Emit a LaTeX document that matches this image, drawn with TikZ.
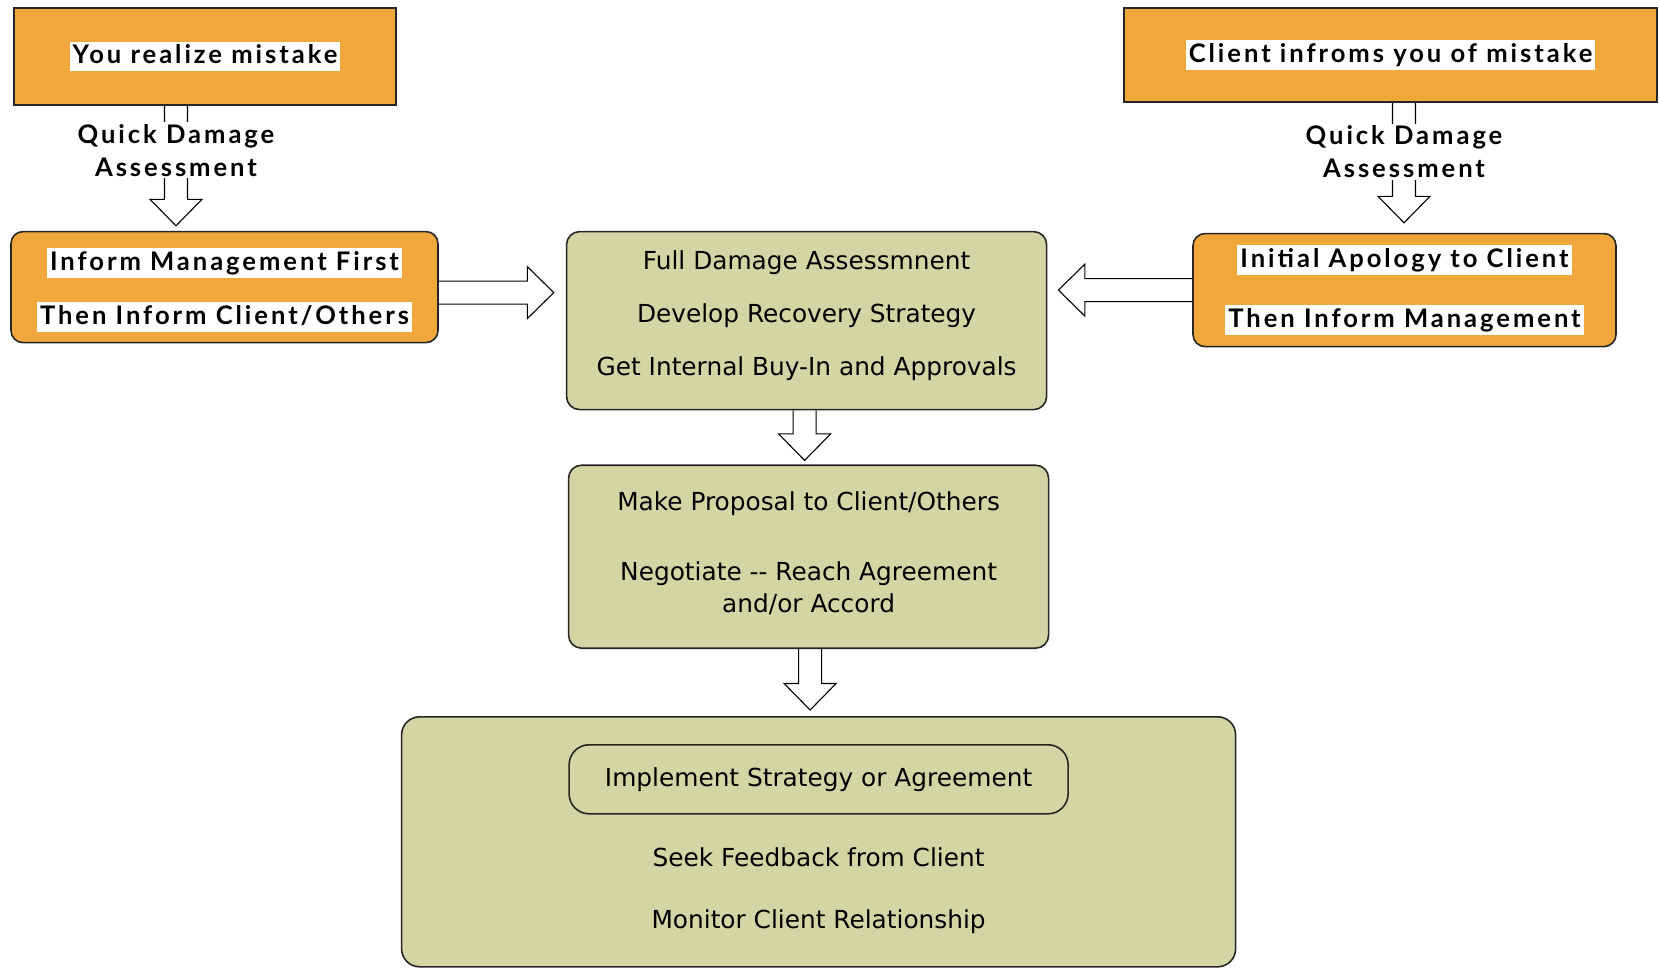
\documentclass[tikz,border=0pt]{standalone}
\usepackage{fontspec}
\setmainfont{Lato}
\newfontfamily\tagfont[LetterSpace=11.5]{Lato}
\newfontfamily\stepfont{DejaVu Sans}
\usepackage{tikz}
\usetikzlibrary{positioning,calc}
\definecolor{BoxOrange}{RGB}{240,168,60}
\definecolor{BoxOlive}{RGB}{211,214,164}
\newcommand{\whitetag}[1]{{\setlength{\fboxsep}{1.5pt}\colorbox{white}{\vphantom{Ag}#1}}}
% fat open arrow from #1 to #2
\newcommand{\hollowarrow}[2]{%
  \coordinate (hb) at ($(#2)!13.25pt!(#1)$);
  \draw[fatarrow] ($(#1)!5.75pt!90:(#2)$) -- ($(hb)!5.75pt!90:(#2)$) -- ($(hb)!13pt!90:(#2)$) -- (#2)
    -- ($(hb)!13pt!-90:(#2)$) -- ($(hb)!5.75pt!-90:(#2)$) -- ($(#1)!5.75pt!-90:(#2)$);}
\tikzset{
 topbox/.style={draw=black!85,fill=BoxOrange,line width=0.8pt,align=center,inner sep=0pt,
   font=\tagfont\bfseries\fontsize{12.8}{15}\selectfont},
 sidebox/.style={topbox,rounded corners=6pt},
 greenbox/.style={draw=black!85,fill=BoxOlive,line width=0.8pt,rounded corners=6.5pt,align=center,
   inner sep=0pt,font=\stepfont\fontsize{12.4}{16}\selectfont},
 innerbox/.style={greenbox,rounded corners=10pt},
 plain/.style={inner sep=0pt,font=\stepfont\fontsize{12.4}{16}\selectfont},
 qlabel/.style={fill=white,inner sep=1pt,align=center,font=\tagfont\bfseries\fontsize{12.8}{16.5}\selectfont},
 fatarrow/.style={draw=black,line width=0.55pt,line join=miter}
}
\begin{document}
\begin{tikzpicture}
\useasboundingbox (0,0) rectangle (829.5pt,-484.5pt);
% where it starts
\node[topbox,minimum width=191pt,minimum height=48.5pt] (mistake) at (102.5pt,-28.25pt) {\whitetag{You realize mistake}};
\node[topbox,minimum width=266.5pt,minimum height=47pt] (client) at (695.25pt,-27.5pt) {\whitetag{Client infroms you of mistake}};
\node[sidebox,minimum width=213.5pt,minimum height=55.5pt,below=62.5pt of mistake,xshift=9.75pt] (inform)
  {\rule{0pt}{14pt}\whitetag{Inform Management First}\\[12pt]\whitetag{Then Inform Client/Others}};
\node[sidebox,minimum width=211.5pt,minimum height=56.5pt,below=65pt of client,xshift=7pt] (apology)
  {\whitetag{Initial Apology to Client}\\[15pt]\whitetag{Then Inform Management}};
% middle column
\node[greenbox,minimum width=240pt,minimum height=89pt,right=63.5pt of inform.north east,anchor=north west] (assess)
  {Full Damage Assessmnent\\[10.5pt]Develop Recovery Strategy\\[10.5pt]Get Internal Buy-In and Approvals\rule[-8pt]{0pt}{0pt}};
\node[greenbox,minimum width=240pt,minimum height=91.5pt,below=27pt of assess,xshift=1pt] (propose)
  {Make Proposal to Client/Others\\[19pt]Negotiate -{}- Reach Agreement\\and/or Accord\rule[-4.5pt]{0pt}{0pt}};
\node[greenbox,rounded corners=9pt,minimum width=417pt,minimum height=125pt,below=33.5pt of propose,xshift=5pt] (follow) {};
\node[innerbox,minimum width=249.5pt,minimum height=34.5pt,below=14pt of follow.north] (implement) {Implement Strategy or Agreement};
\node[plain] (seek) at ([yshift=-21.5pt]implement.south) {Seek Feedback from Client};
\node[plain] (monitor) at ([yshift=-32pt]seek.center) {Monitor Client Relationship};
% fat arrows
\coordinate (q1s) at ([xshift=-14.5pt]mistake.south);
\coordinate (q1e) at ($(q1s |- inform.north)+(0,2.5pt)$);
\coordinate (q2s) at ([xshift=6.75pt]client.south);
\coordinate (q2e) at ($(q2s |- apology.north)+(0,5pt)$);
\coordinate (r1s) at ([yshift=-2.75pt]inform.east);
\coordinate (r1e) at ($(r1s -| assess.west)+(-6pt,0)$);
\coordinate (r2s) at (apology.west);
\coordinate (r2e) at ($(r2s -| assess.east)+(5.5pt,0)$);
\coordinate (d1s) at ([xshift=-1pt]assess.south);
\coordinate (d1e) at ($(d1s |- propose.north)+(0,2pt)$);
\coordinate (d2s) at ([xshift=0.75pt]propose.south);
\coordinate (d2e) at ($(d2s |- follow.north)+(0,3pt)$);
\hollowarrow{q1s}{q1e}
\hollowarrow{q2s}{q2e}
\hollowarrow{r1s}{r1e}
\hollowarrow{r2s}{r2e}
\hollowarrow{d1s}{d1e}
\hollowarrow{d2s}{d2e}
\node[qlabel] (quick1) at ($(q1s)!0.37!(q1e)$) {Quick Damage\\Assessment};
\node[qlabel] (quick2) at ($(q2s)!0.41!(q2e)$) {Quick Damage\\Assessment};
\end{tikzpicture}
\end{document}
